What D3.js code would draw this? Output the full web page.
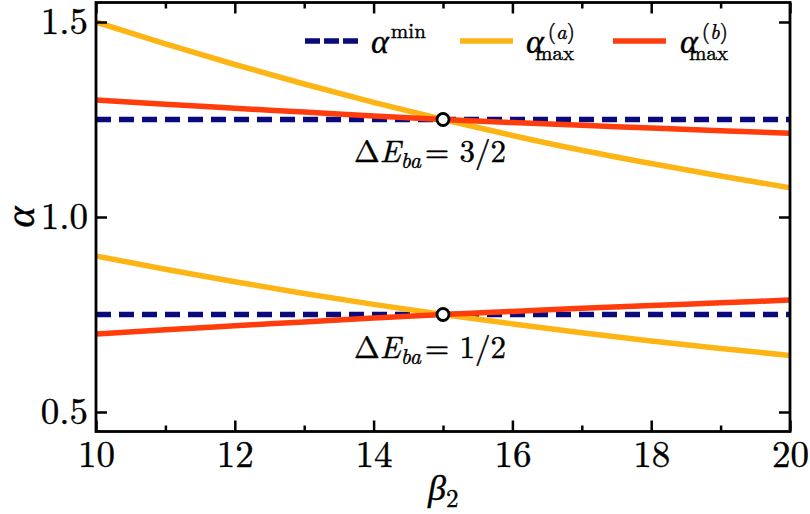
<!DOCTYPE html>
<html>
<head>
<meta charset="utf-8">
<script src="https://cdn.jsdelivr.net/npm/d3@7"></script>
<style>
  body { margin: 0; background: #fff; }
  svg { display: block; }
</style>
</head>
<body>
<svg id="chart" width="810" height="514"></svg>
<script>
// ---- data ----
const beta = [10, 11, 12, 13, 14, 15, 16, 17, 18, 19, 20];
// Delta E_ba = 3/2
const alphaMinHigh = [1.25, 1.25, 1.25, 1.25, 1.25, 1.25, 1.25, 1.25, 1.25, 1.25, 1.25];
const alphaMaxAHigh = [1.500, 1.444, 1.391, 1.341, 1.294, 1.250, 1.209, 1.171, 1.137, 1.105, 1.075];
const alphaMaxBHigh = [1.300, 1.289, 1.279, 1.269, 1.259, 1.250, 1.242, 1.235, 1.228, 1.221, 1.215];
// Delta E_ba = 1/2
const alphaMinLow = [0.75, 0.75, 0.75, 0.75, 0.75, 0.75, 0.75, 0.75, 0.75, 0.75, 0.75];
const alphaMaxALow = [0.900, 0.866, 0.834, 0.804, 0.776, 0.750, 0.726, 0.703, 0.682, 0.663, 0.645];
const alphaMaxBLow = [0.700, 0.711, 0.721, 0.731, 0.741, 0.750, 0.758, 0.766, 0.773, 0.780, 0.787];
// crossing points
const crossBeta = [15, 15];
const crossAlpha = [1.25, 0.75];
// ticks
const xMajorTicks = [10, 12, 14, 16, 18, 20];
const xMinorTicks = [11, 13, 15, 17, 19];
const yMajorTicks = [0.5, 1.0, 1.5];
const xTickLabels = ["10", "12", "14", "16", "18", "20"];
const yTickLabels = ["0.5", "1.0", "1.5"];

// ---- styles ----
const MATH = '"Latin Modern Roman"';
const colMin = "#0a0a7d";
const colA = "#fdb515";
const colB = "#ff3c0c";

const svg = d3.select("#chart");
const L = 96, R = 790, T = 2.5, B = 431.5;
const x = d3.scaleLinear().domain([10, 20]).range([L, R]);
const y = d3.scaleLinear().domain([0.45, 1.55]).range([B, T]);

const plot = svg.append("g");
svg.append("clipPath").attr("id", "clip")
  .append("rect").attr("x", L).attr("y", T).attr("width", R - L).attr("height", B - T);

const line = d3.line().curve(d3.curveMonotoneX).x((d, i) => x(beta[i])).y(d => y(d));
const lines = plot.append("g").attr("clip-path", "url(#clip)");

function drawSeries(values, color, dashed) {
  lines.append("path")
    .attr("d", line(values))
    .attr("fill", "none")
    .attr("stroke", color)
    .attr("stroke-width", 5.5)
    .attr("stroke-dasharray", dashed ? "15,8" : null);
}
drawSeries(alphaMinHigh, colMin, true);
drawSeries(alphaMinLow, colMin, true);
drawSeries(alphaMaxAHigh, colA, false);
drawSeries(alphaMaxALow, colA, false);
drawSeries(alphaMaxBHigh, colB, false);
drawSeries(alphaMaxBLow, colB, false);

plot.selectAll("circle.cross").data(crossBeta).enter().append("circle")
  .attr("class", "cross")
  .attr("cx", d => x(d))
  .attr("cy", (d, i) => y(crossAlpha[i]))
  .attr("r", 6)
  .attr("fill", "#fff")
  .attr("stroke", "#000")
  .attr("stroke-width", 2.8);

// ---- axes ----
function styleAxis(g) {
  g.attr("font-family", null);
  g.select(".domain").remove();
  g.selectAll(".tick line").attr("stroke", "#000").attr("stroke-width", 2.5);
  g.selectAll(".tick text").attr("font-size", 37).attr("fill", "#000");
}
const xb = svg.append("g").attr("transform", `translate(0,${B})`)
  .call(d3.axisBottom(x).tickValues(xMajorTicks).tickSize(-11).tickPadding(9)
    .tickFormat((d, i) => xTickLabels[i]));
styleAxis(xb);
const xbm = svg.append("g").attr("transform", `translate(0,${B})`)
  .call(d3.axisBottom(x).tickValues(xMinorTicks).tickSize(-6).tickFormat(""));
styleAxis(xbm);
const xt = svg.append("g").attr("transform", `translate(0,${T})`)
  .call(d3.axisTop(x).tickValues(xMajorTicks).tickSize(-11).tickFormat(""));
styleAxis(xt);
const xtm = svg.append("g").attr("transform", `translate(0,${T})`)
  .call(d3.axisTop(x).tickValues(xMinorTicks).tickSize(-6).tickFormat(""));
styleAxis(xtm);
const yl = svg.append("g").attr("transform", `translate(${L},0)`)
  .call(d3.axisLeft(y).tickValues(yMajorTicks).tickSize(-11).tickPadding(8)
    .tickFormat((d, i) => yTickLabels[i]));
styleAxis(yl);
const yr = svg.append("g").attr("transform", `translate(${R},0)`)
  .call(d3.axisRight(y).tickValues(yMajorTicks).tickSize(-11).tickFormat(""));
styleAxis(yr);

// frame
svg.append("rect").attr("x", L).attr("y", T).attr("width", R - L).attr("height", B - T)
  .attr("fill", "none").attr("stroke", "#000").attr("stroke-width", 2.8);

// axis titles
const xTitle = svg.append("text").attr("x", 428).attr("y", 500).attr("font-size", 36);
xTitle.append("tspan").attr("font-style", "italic").text("β");
xTitle.append("tspan").attr("font-size", 25).attr("dy", 7).text("2");

svg.append("text")
  .attr("transform", "translate(34,217) rotate(-90)")
  .attr("text-anchor", "middle")
  .attr("font-size", 40).attr("font-style", "italic").text("α");

// ---- annotations ----
function deltaLabel(xp, yp, frac) {
  const t = svg.append("text").attr("x", xp).attr("y", yp).attr("font-size", 31);
  t.append("tspan").text("Δ");
  t.append("tspan").attr("font-style", "italic").text("E");
  t.append("tspan").attr("font-style", "italic").attr("font-size", 22).attr("dy", 6).text("ba");
  t.append("tspan").attr("dy", -6).attr("dx", 4).text("= " + frac);
}
deltaLabel(354, 162, "3/2");
deltaLabel(354, 358, "1/2");

// ---- legend ----
const leg = svg.append("g");
const legendItems = [
  { x0: 305, color: colMin, dashed: true },
  { x0: 460, color: colA, dashed: false },
  { x0: 613, color: colB, dashed: false }
];
legendItems.forEach(it => {
  leg.append("line")
    .attr("x1", it.x0).attr("x2", it.x0 + 53)
    .attr("y1", 41).attr("y2", 41)
    .attr("stroke", it.color).attr("stroke-width", 5.5)
    .attr("stroke-dasharray", it.dashed ? "15,4" : null);
});
const t1 = leg.append("text").attr("x", 371).attr("y", 53).attr("font-size", 34);
t1.append("tspan").attr("font-style", "italic").text("α");
t1.append("tspan").attr("font-size", 21).attr("dy", -15).attr("dx", 2).text("min");

function maxLabel(xp, letter) {
  const t = leg.append("text").attr("x", xp).attr("y", 53).attr("font-size", 34);
  t.append("tspan").attr("font-style", "italic").text("α");
  t.append("tspan").attr("font-size", 21).attr("dy", -14).attr("dx", 4).text("(");
  t.append("tspan").attr("font-size", 21).attr("font-style", "italic").text(letter);
  t.append("tspan").attr("font-size", 21).text(")");
  t.append("tspan").attr("font-size", 21).attr("x", xp + 9).attr("dy", 21).text("max");
}
maxLabel(526, "a");
maxLabel(680, "b");

// serif (Computer Modern style) font for every text, inline so it wins over axis defaults
svg.selectAll("text, tspan").style("font-family", MATH);
svg.selectAll("text").attr("stroke", "#000").attr("stroke-width", 0.4);
</script>
</body>
</html>
